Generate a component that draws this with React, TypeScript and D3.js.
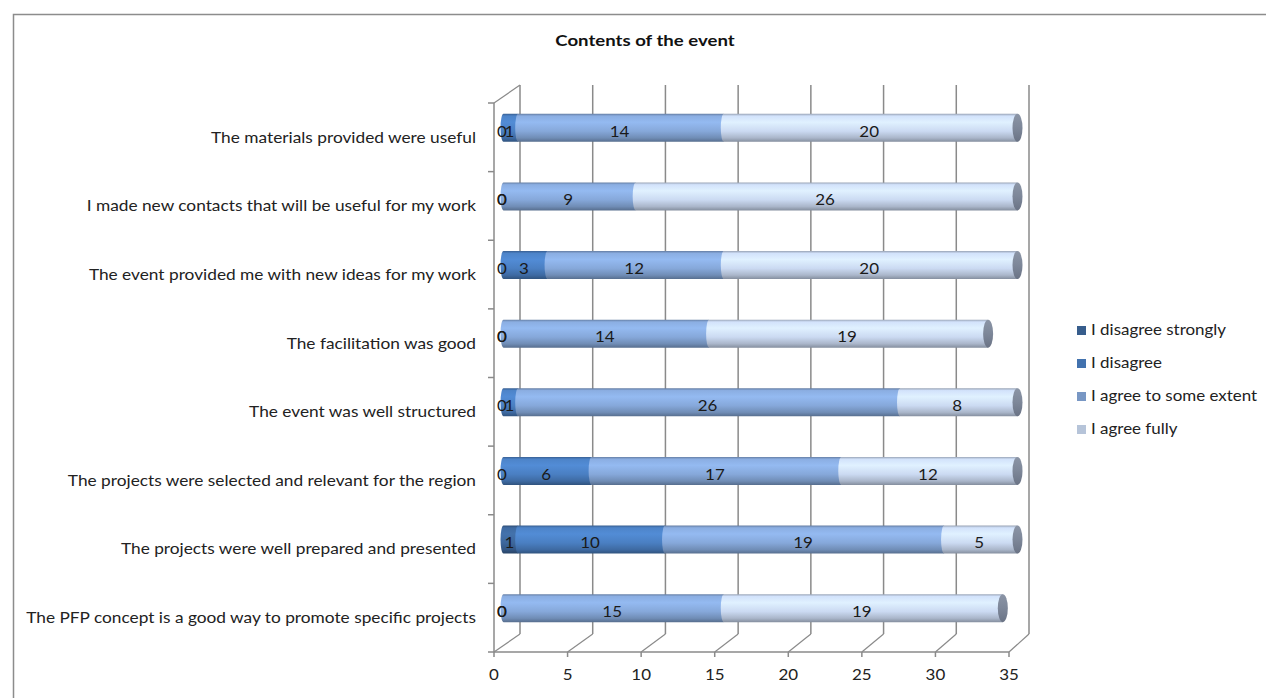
import React from "react";
import * as d3 from "d3";

// Survey statements (top to bottom)
const categories = [
  "The materials provided were useful",
  "I made new contacts that will be useful for my work",
  "The event provided me with new ideas for my work",
  "The facilitation was good",
  "The event was well structured",
  "The projects were selected and relevant for the region",
  "The projects were well prepared and presented",
  "The PFP concept is a good way to promote specific projects",
];

const seriesNames = [
  "I disagree strongly",
  "I disagree",
  "I agree to some extent",
  "I agree fully",
];

const disagreeStrongly = [0, 0, 0, 0, 0, 0, 1, 0];
const disagree = [1, 0, 3, 0, 1, 6, 10, 0];
const agreeSomewhat = [14, 9, 12, 14, 26, 17, 19, 15];
const agreeFully = [20, 26, 20, 19, 8, 12, 5, 19];

const xTicks = [0, 5, 10, 15, 20, 25, 30, 35];

const seriesColors = ["#3d679c", "#4a7fc2", "#86a8da", "#cbdaf2"];

const W = 1266;
const H = 698;
const FONT = "Lato, 'Open Sans', sans-serif";
const STRETCH = 1.13;

// text drawn slightly wider than the font's natural width
function Label(props: {
  x: number;
  y: number;
  anchor?: "start" | "middle" | "end";
  size?: number;
  weight?: string;
  fill?: string;
  sx?: number;
  children: React.ReactNode;
}) {
  const { x, y, anchor = "start", size = 15, weight = "normal", fill = "#222", sx = STRETCH } = props;
  return (
    <text
      transform={`translate(${x},${y}) scale(${sx},1)`}
      textAnchor={anchor}
      dominantBaseline="middle"
      fontSize={size}
      fontWeight={weight}
      fill={fill}
    >
      {props.children}
    </text>
  );
}

export default function App() {
  const rows = categories.map((c, i) => ({
    cat: c,
    [seriesNames[0]]: disagreeStrongly[i],
    [seriesNames[1]]: disagree[i],
    [seriesNames[2]]: agreeSomewhat[i],
    [seriesNames[3]]: agreeFully[i],
  }));
  const stacked = d3.stack<any>().keys(seriesNames)(rows);

  // front plane (axes) and back wall of the 3-D plot box
  const xFront = d3.scaleLinear().domain([0, 35]).range([494, 1009]);
  const xBack = d3.scaleLinear().domain([0, 35]).range([520, 1029]);
  const xBar = d3.scaleLinear().domain([0, 35]).range([503.5, 1017.5]);
  const yFront = d3.scaleBand<string>().domain(categories).range([103, 652]);
  const depth = -18;
  const floorY = 652;
  const half = 14;
  const capRx = 3;
  const barCy = (c: string) => (yFront(c) as number) + yFront.bandwidth() / 2 - 9.5;

  const grid = "#8a8a8a";

  const segPath = (a: number, b: number, cy: number) =>
    `M${b},${cy - half} L${a},${cy - half} A${capRx},${half} 0 0 0 ${a},${cy + half} L${b},${cy + half} Z`;

  const totals = categories.map((_, i) =>
    disagreeStrongly[i] + disagree[i] + agreeSomewhat[i] + agreeFully[i]
  );

  return (
    <svg
      width={W}
      height={H}
      style={{ position: "absolute", left: 0, top: 0, background: "#fff" }}
      fontFamily={FONT}
    >
      <defs>
        {seriesColors.map((c, i) => {
          const base = d3.color(c)!;
          return (
            <linearGradient key={i} id={`cyl${i}`} x1="0" y1="0" x2="0" y2="1">
              <stop offset="0" stopColor={base.darker(0.8).formatHex()} />
              <stop offset="0.08" stopColor={base.brighter(0.1).formatHex()} />
              <stop offset="0.3" stopColor={base.brighter(0.28).formatHex()} />
              <stop offset="0.62" stopColor={base.formatHex()} />
              <stop offset="0.86" stopColor={base.darker(0.5).formatHex()} />
              <stop offset="1" stopColor={base.darker(1.2).formatHex()} />
            </linearGradient>
          );
        })}
        <linearGradient id="capGrad" x1="0" y1="0" x2="0" y2="1">
          <stop offset="0" stopColor="#8b95a6" />
          <stop offset="0.5" stopColor="#7d8799" />
          <stop offset="1" stopColor="#6a7385" />
        </linearGradient>
      </defs>

      {/* chart frame */}
      <rect x={13.5} y={14.5} width={W} height={H} fill="#fff" stroke="#8c8c8c" strokeWidth={1.5} />

      {/* title */}
      <Label x={645} y={42} anchor="middle" size={15.5} weight="bold" fill="#111" sx={1.2}>
        Contents of the event
      </Label>

      {/* back wall gridlines */}
      {xTicks.map((t) => (
        <line key={`g${t}`} x1={xBack(t)} x2={xBack(t)} y1={103 + depth} y2={floorY + depth} stroke={grid} strokeWidth={1.5} />
      ))}
      {/* floor lines */}
      {xTicks.map((t) => (
        <line key={`f${t}`} x1={xFront(t)} x2={xBack(t)} y1={floorY} y2={floorY + depth} stroke={grid} strokeWidth={1.2} />
      ))}
      {/* left wall top edge */}
      <line x1={xFront(0)} y1={103} x2={xBack(0)} y2={103 + depth} stroke={grid} strokeWidth={1.2} />
      {/* left axis */}
      <line x1={xFront(0)} x2={xFront(0)} y1={103} y2={floorY} stroke={grid} strokeWidth={1.5} />
      {[...categories.map((c) => yFront(c) as number), 652].map((y, i) => (
        <line key={`lt${i}`} x1={xFront(0) - 6} x2={xFront(0)} y1={y} y2={y} stroke={grid} strokeWidth={1.5} />
      ))}
      {/* bottom axis */}
      <line x1={xFront(0)} x2={xFront(35)} y1={floorY} y2={floorY} stroke={grid} strokeWidth={1.5} />
      {xTicks.map((t) => (
        <g key={`bt${t}`}>
          <line x1={xFront(t)} x2={xFront(t)} y1={floorY} y2={floorY + 5} stroke={grid} strokeWidth={1.5} />
          <Label x={xFront(t)} y={676} anchor="middle">
            {t}
          </Label>
        </g>
      ))}

      {/* category labels */}
      {categories.map((c) => (
        <Label key={c} x={476} y={(yFront(c) as number) + yFront.bandwidth() / 2 + 1.5} anchor="end" size={15.3}>
          {c}
        </Label>
      ))}

      {/* cylinders */}
      {categories.map((c, i) => {
        const cy = barCy(c);
        return (
          <g key={`bar${i}`}>
            {stacked.map((s, si) => {
              const [v0, v1] = s[i];
              if (v1 - v0 <= 0) return null;
              return <path key={si} d={segPath(xBar(v0), xBar(v1), cy)} fill={`url(#cyl${si})`} />;
            })}
            <ellipse cx={xBar(totals[i])} cy={cy} rx={5} ry={half} fill="url(#capGrad)" />
          </g>
        );
      })}

      {/* value labels */}
      {categories.map((c, i) => {
        const cy = barCy(c);
        return stacked.map((s, si) => {
          const [v0, v1] = s[i];
          return (
            <Label key={`v${i}-${si}`} x={xBar((v0 + v1) / 2) - 1.5} y={cy + 5} anchor="middle" fill="#1a1a1a">
              {v1 - v0}
            </Label>
          );
        });
      })}

      {/* legend */}
      {seriesNames.map((n, i) => {
        const y = 331 + i * 33;
        return (
          <g key={n}>
            <rect x={1077} y={y - 5} width={9} height={9} fill={d3.color(seriesColors[i])!.darker(0.3).formatHex()} />
            <Label x={1091} y={y}>
              {n}
            </Label>
          </g>
        );
      })}
    </svg>
  );
}
